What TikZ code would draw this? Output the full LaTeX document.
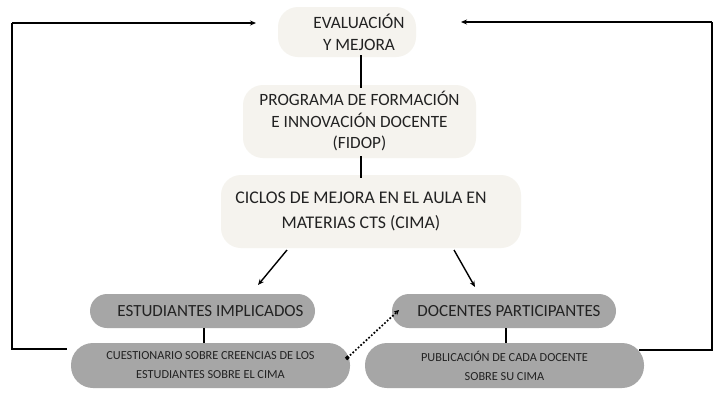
\documentclass[tikz,border=0pt]{standalone}
\usepackage{fontspec}
\setmainfont{Carlito}
\usetikzlibrary{arrows.meta,calc}
\definecolor{cream}{HTML}{F5F3EE}
\definecolor{boxgray}{HTML}{A6A6A6}
\definecolor{ink}{HTML}{222222}
\tikzset{
  lightbox/.style={fill=cream,draw=none,rounded corners=20pt,align=center,text=ink,inner sep=0pt},
  graybox/.style={fill=boxgray,draw=none,align=center,text=ink,inner sep=0pt},
  conn/.style={draw=black,line width=1.4pt},
  arr/.style={conn,-{Stealth[length=6pt,width=5pt]}},
  dotarr/.style={draw=black,line width=2.4pt,line cap=round,dash pattern=on 0pt off 3.6pt,{Square[length=3.5pt,width=3.5pt]}-{Stealth[length=5pt,width=5pt]}}
}
\begin{document}
\begin{tikzpicture}[x=1pt,y=-1pt]
\useasboundingbox (0,0) rectangle (722,402);
\fill[white] (0,0) rectangle (722,402);
\node[lightbox,minimum width=138pt,minimum height=50pt,font=\fontsize{17.3}{22}\selectfont] (eval) at (347,32) {\hspace*{24pt}EVALUACIÓN\\\hspace*{24pt}Y MEJORA};
\node[lightbox,minimum width=233pt,minimum height=73pt,font=\fontsize{17.2}{21.5}\selectfont] (fidop) at (359.5,121.5) {PROGRAMA DE FORMACIÓN\\E INNOVACIÓN DOCENTE\\(FIDOP)};
\node[lightbox,minimum width=300pt,minimum height=73pt,font=\fontsize{17.8}{25}\selectfont] (cima) at (371,211.5) {\hspace*{-20pt}CICLOS DE MEJORA EN EL AULA EN\\\hspace*{-20pt}MATERIAS CTS (CIMA)};
\node[graybox,rounded corners=17pt,minimum width=225pt,minimum height=34pt,font=\fontsize{17}{20}\selectfont] (est) at (202.5,311) {\hspace*{16pt}ESTUDIANTES IMPLICADOS};
\node[graybox,rounded corners=17pt,minimum width=224pt,minimum height=34pt,font=\fontsize{17}{20}\selectfont] (doc) at (504,311) {\hspace*{10pt}DOCENTES PARTICIPANTES};
\node[graybox,rounded corners=22pt,minimum width=279pt,minimum height=45pt,font=\fontsize{12.3}{19}\selectfont] (cue) at (210.5,365.5) {\raisebox{-2pt}{\parbox{279pt}{\centering CUESTIONARIO SOBRE CREENCIAS DE LOS\\ESTUDIANTES SOBRE EL CIMA}}};
\node[graybox,rounded corners=22pt,minimum width=279pt,minimum height=45pt,font=\fontsize{12.3}{19}\selectfont] (pub) at (504.5,365.5) {\raisebox{-2pt}{\parbox{279pt}{\centering PUBLICACIÓN DE CADA DOCENTE\\SOBRE SU CIMA}}};
% vertical connectors
\draw[conn] ([yshift=2pt]eval.south -| 361,0) -- ([yshift=-3pt]fidop.north -| 361,0);
\draw[conn] ([yshift=2pt]fidop.south -| 361,0) -- ([yshift=-3pt]cima.north -| 361,0);
\draw[conn] (est.south -| 204,0) -- (cue.north -| 204,0);
\draw[conn] (doc.south -| 506,0) -- (pub.north -| 506,0);
% arrows from CIMA
\coordinate (a1s) at (287,250);
\coordinate (a1e) at (258,285);
\coordinate (a2s) at (454,250);
\coordinate (a2e) at (475,287);
\draw[arr] (a1s) -- (a1e);
\draw[arr] (a2s) -- (a2e);
% dotted link
\coordinate (d1) at (346,359);
\coordinate (d2) at (399,310);
\draw[dotarr] (d1) -- (d2);
% feedback loops
\coordinate (l1) at (12,349);
\coordinate (l2) at (12,23);
\coordinate (l3) at (256,23);
\draw[conn] ([xshift=-4pt]cue.west |- l1) -- (l1) -- (l2);
\draw[arr] (l2) -- (l3);
\coordinate (r1) at (712,350);
\coordinate (r2) at (712,22);
\coordinate (r3) at (461,22);
\draw[conn] ([xshift=-5pt]pub.east |- r1) -- (r1) -- (r2);
\draw[arr] (r2) -- (r3);
\end{tikzpicture}
\end{document}
